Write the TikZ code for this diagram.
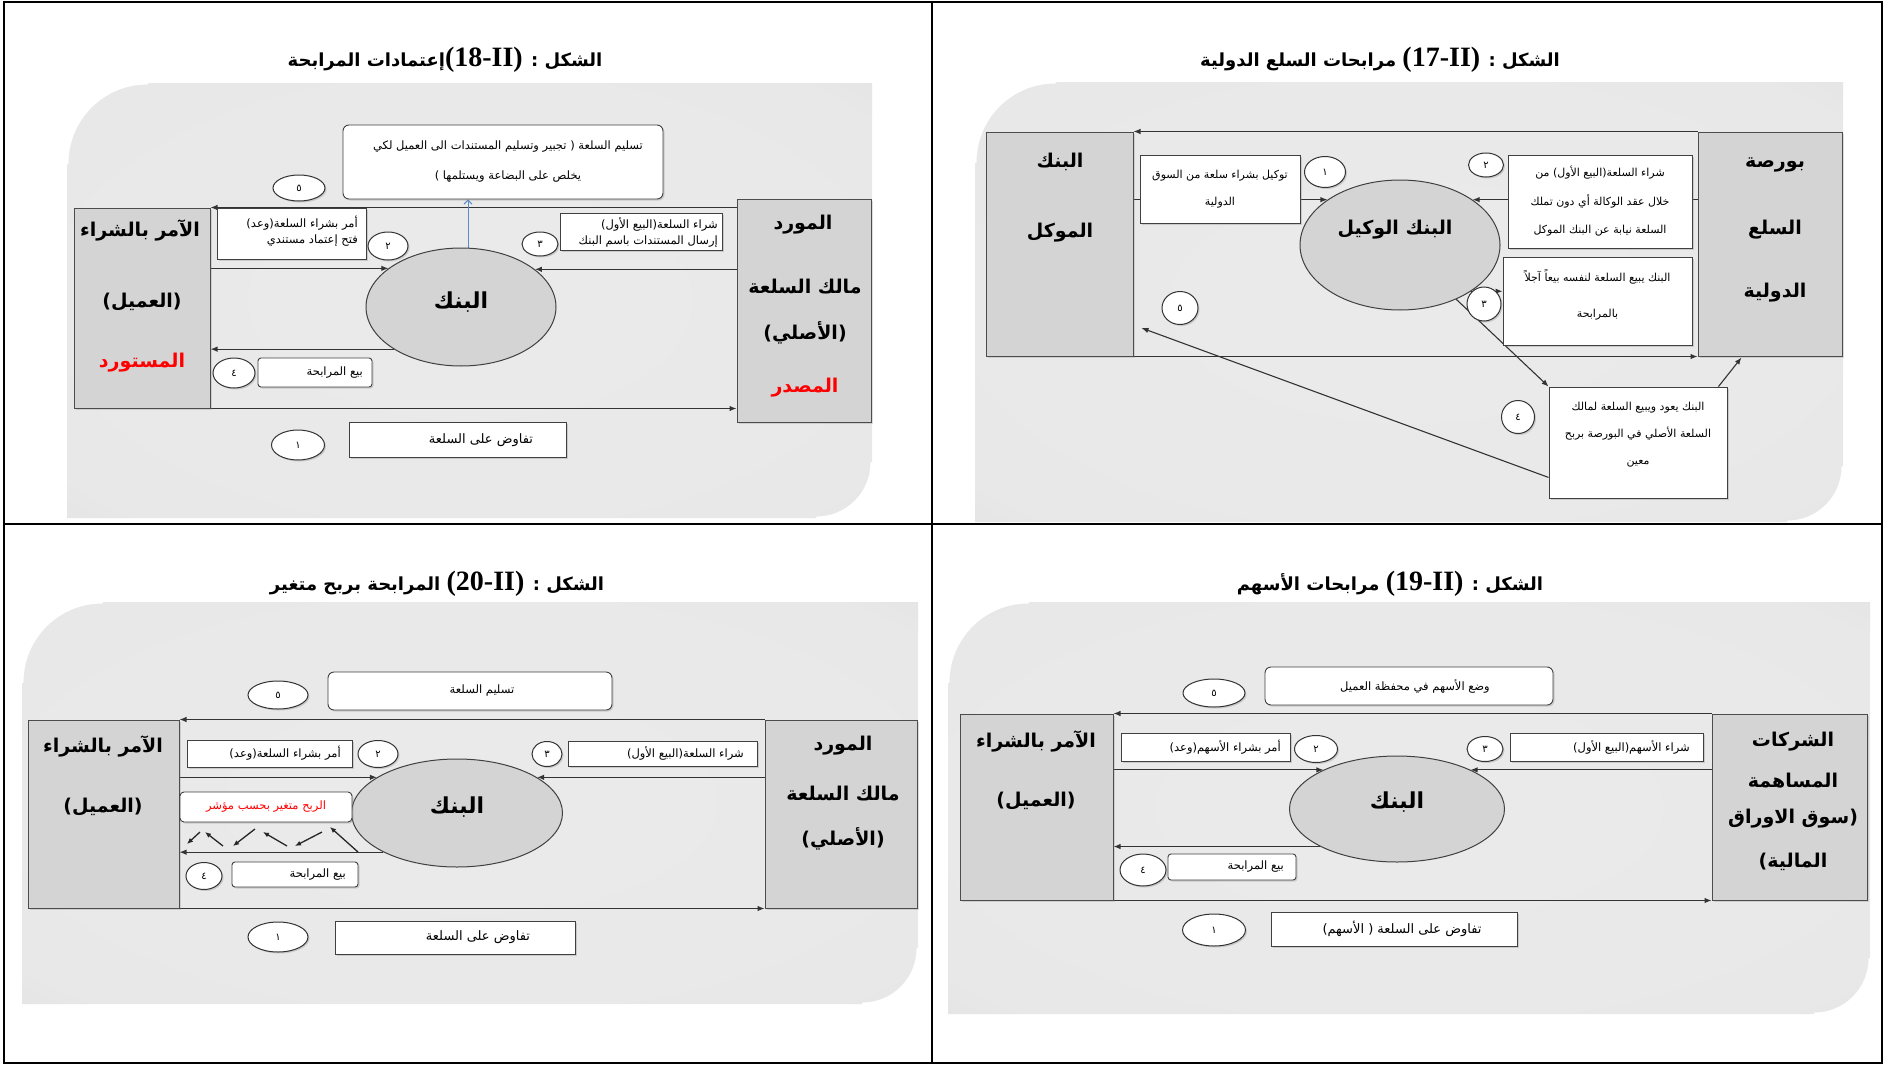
\documentclass[tikz,border=0pt]{standalone}
\usepackage{fontspec}
\setmainfont{Liberation Serif}
\newfontfamily\arf[Script=Arabic]{DejaVu Sans}
\newfontfamily\dvs{DejaVu Sans}
\TeXXeTstate=1
\usetikzlibrary{shapes.geometric,arrows.meta,calc,shadows}
\pgfdeclarelayer{bg}\pgfdeclarelayer{mid}\pgfsetlayers{bg,mid,main}
\definecolor{bluearr}{RGB}{91,138,200}
\pgfdeclareradialshading{panelsh}{\pgfpointorigin}{color(0bp)=(black!8); color(32bp)=(black!9); color(44bp)=(black!13); color(50bp)=(black!21); color(72bp)=(black!26)}
\newcommand\ARt[1]{{\arf\beginR #1\endR}}
\newcommand\Ropen{\hbox{\dvs)}}
\newcommand\Rclose{\hbox{\dvs(}}
\newcommand\latfig[1]{\hbox{\rmfamily\bfseries\fontsize{28}{28}\selectfont(#1)}}
\newcommand\mypanel[4]{%
 \shade[shading=panelsh] ({#1+80},#2) -- (#3,#2) -- (#3,{#4-55}) .. controls (#3,{#4-25}) and ({#3-25},#4) .. ({#3-55},#4) -- (#1,#4) -- (#1,{#2+80}) .. controls (#1,{#2+36}) and ({#1+36},#2) .. cycle;
 \draw[white,line width=3pt,line cap=round] (#1,{#2+80}) .. controls (#1,{#2+36}) and ({#1+36},#2) .. ({#1+80},#2);
 \draw[white,line width=3pt,line cap=round] (#3,{#4-55}) .. controls (#3,{#4-25}) and ({#3-25},#4) .. ({#3-55},#4);}
\tikzset{
 arw/.style={draw=black!80, line width=1.1pt, -{Latex[length=7pt,width=5.5pt]}},
 zig/.style={draw=black!85, line width=1.3pt, -{Latex[length=6pt,width=5pt]}},
 barw/.style={draw=bluearr, line width=1pt, -{Straight Barb[length=4pt,width=8pt]}},
 ent/.style 2 args={draw=black!70, fill=black!17, line width=1pt, minimum width=#1pt, minimum height=#2pt, inner sep=0pt, drop shadow={opacity=0.25, shadow xshift=2pt, shadow yshift=-2pt}},
 bank/.style 2 args={ellipse, draw=black!75, fill=black!17, line width=1pt, minimum width=#1pt, minimum height=#2pt, inner sep=0pt},
 bx/.style 2 args={draw=black!75, fill=white, line width=0.9pt, minimum width=#1pt, minimum height=#2pt, inner sep=0pt, drop shadow={opacity=0.3, shadow xshift=1.5pt, shadow yshift=-1.5pt}},
 rbx/.style 2 args={bx={#1}{#2}, rounded corners=6pt},
 ov/.style 2 args={ellipse, draw=black!80, fill=white, line width=1pt, minimum width=#1pt, minimum height=#2pt, inner sep=0pt, font=\arf\fontsize{10}{10}\selectfont, drop shadow={opacity=0.3, shadow xshift=1.5pt, shadow yshift=-1.5pt}},
 ttl/.style={inner sep=0pt, font=\arf\bfseries\fontsize{18}{18}\selectfont},
 et/.style={inner sep=0pt, font=\arf\bfseries\fontsize{19}{19}\selectfont},
 bt/.style={inner sep=0pt, font=\arf\bfseries\fontsize{22}{22}\selectfont},
 st/.style={inner sep=0pt, font=\arf\fontsize{11.5}{16}\selectfont},
 mt/.style={inner sep=0pt, font=\arf\fontsize{13}{16}\selectfont},
}
\begin{document}
\begin{tikzpicture}[x=1pt,y=-1pt]
\useasboundingbox (0,0) rectangle (1887,1065);
\begin{pgfonlayer}{bg}
 \fill[white] (0,0) rectangle (1887,1065);
 \mypanel{67}{83}{872}{518}
 \mypanel{975}{82}{1843}{522}
 \mypanel{22}{602}{918}{1004}
 \mypanel{948}{602}{1870}{1014}
\end{pgfonlayer}
% table frame
\draw[line width=2.4pt] (4,2) rectangle (1882,1063);
\draw[line width=2.4pt] (932,2) -- (932,1063);
\draw[line width=2.4pt] (4,524) -- (1882,524);

% ================= Panel 18-II =================
\node[ttl] (t18) at (445,60) {\ARt{الشكل : \latfig{18-II}إعتمادات المرابحة}};
\node[ent={136}{200}] (l18) at (142,308) {};
\node[et] (l18a) at (140,230) {\ARt{الآمر بالشراء}};
\node[et] (l18b) at (142,302) {\ARt{\Ropen العميل\Rclose}};
\node[et,text=red] (l18c) at (142,363) {\ARt{المستورد}};
\node[ent={134}{223}] (r18) at (804,310.5) {};
\node[et] (r18a) at (803,225) {\ARt{المورد}};
\node[et] (r18b) at (805,287) {\ARt{مالك السلعة}};
\node[et] (r18c) at (805,333) {\ARt{\Ropen الأصلي\Rclose}};
\node[et,text=red] (r18d) at (805,388) {\ARt{المصدر}};
\node[bank={190}{118}] (k18) at (461,307) {};
\node[bt] (k18t) at (461,302) {\ARt{البنك}};
\node[rbx={320}{74}] (c18) at (503,162) {};
\node[st,align=center,font=\arf\fontsize{11.5}{30}\selectfont] (c18t) at (508,162) {\ARt{تسليم السلعة \Ropen{} تجبير وتسليم المستندات الى العميل لكي}\\\ARt{يخلص على البضاعة ويستلمها \Rclose}};
\node[bx={149}{51}] (b18b) at (291.5,233.5) {};
\node[st,align=right,anchor=east] (b18bt) at (358,231) {\ARt{أمر بشراء السلعة\Ropen وعد\Rclose}\\\ARt{فتح إعتماد مستندي}};
\node[bx={162}{37}] (b18c) at (641,231.5) {};
\node[st,align=right,anchor=east] (b18ct) at (718,232) {\ARt{شراء السلعة\Ropen البيع الأول\Rclose}\\\ARt{إرسال المستندات باسم البنك}};
\node[bx={114}{29},rounded corners=3pt] (b18d) at (315,372.5) {};
\node[st,anchor=east] (b18dt) at (363,372.5) {\ARt{بيع المرابحة}};
\node[bx={217}{35}] (b18a) at (457.5,439.5) {};
\node[mt] (b18at) at (481,440) {\ARt{تفاوض على السلعة}};
\node[ov={52}{26}] (o18e) at (299,188) {\ARt{٥}};
\node[ov={40}{28}] (o18b) at (388,246) {\ARt{٢}};
\node[ov={36}{24}] (o18c) at (540,244) {\ARt{٣}};
\node[ov={42}{30}] (o18d) at (234,373) {\ARt{٤}};
\node[ov={53}{30}] (o18a) at (298,445) {\ARt{١}};

% ================= Panel 17-II =================
\node[ttl] (t17) at (1380,60) {\ARt{الشكل : \latfig{17-II} مرابحات السلع الدولية}};
\node[ent={147}{224}] (l17) at (1059.5,244) {};
\node[et] (l17a) at (1060,162) {\ARt{البنك}};
\node[et] (l17b) at (1060,233) {\ARt{الموكل}};
\node[ent={144}{224}] (r17) at (1770,244) {};
\node[et] (r17a) at (1775,165) {\ARt{بورصة}};
\node[et] (r17b) at (1775,230) {\ARt{السلع}};
\node[et] (r17c) at (1775,293) {\ARt{الدولية}};
\node[bank={200}{130}] (k17) at (1400,245) {};
\node[bt,font=\arf\bfseries\fontsize{19}{19}\selectfont] (k17t) at (1395,230) {\ARt{البنك الوكيل}};
\node[bx={160}{68},st,align=center,font=\arf\fontsize{11}{27}\selectfont] (b17a) at (1220,189) {\ARt{توكيل بشراء سلعة من السوق}\\\ARt{الدولية}};
\node[bx={184}{93},st,align=center,font=\arf\fontsize{11}{28.5}\selectfont] (b17b) at (1600,201.5) {\ARt{شراء السلعة\Ropen البيع الأول\Rclose{} من}\\\ARt{خلال عقد الوكالة أي دون تملك}\\\ARt{السلعة نيابة عن البنك الموكل}};
\node[bx={189}{88}] (b17c) at (1597.5,301) {};
\node[st,align=center,font=\arf\fontsize{11}{36}\selectfont] (b17ct) at (1597.5,295) {\ARt{البنك يبيع السلعة لنفسه بيعاً آجلاً}\\\ARt{بالمرابحة}};
\node[bx={178}{111}] (b17d) at (1638,442.5) {};
\node[st,align=center,font=\arf\fontsize{11}{27}\selectfont] (b17dt) at (1638,435) {\ARt{البنك يعود ويبيع السلعة لمالك}\\\ARt{السلعة الأصلي في البورصة بربح}\\\ARt{معين}};
\node[ov={41}{31}] (o17a) at (1325,172) {\ARt{١}};
\node[ov={35}{24}] (o17b) at (1486,165) {\ARt{٢}};
\node[ov={34}{34}] (o17c) at (1484,304) {\ARt{٣}};
\node[ov={33}{33}] (o17d) at (1518,417) {\ARt{٤}};
\node[ov={36}{33}] (o17e) at (1180,308) {\ARt{٥}};

% ================= Panel 20-II =================
\node[ttl] (t20) at (437,584) {\ARt{الشكل : \latfig{20-II} المرابحة بربح متغير}};
\node[ent={151}{188}] (l20) at (103.5,814) {};
\node[et] (l20a) at (103,746) {\ARt{الآمر بالشراء}};
\node[et] (l20b) at (103,807) {\ARt{\Ropen العميل\Rclose}};
\node[ent={152}{188}] (r20) at (841,814) {};
\node[et] (r20a) at (843,746) {\ARt{المورد}};
\node[et] (r20b) at (843,794) {\ARt{مالك السلعة}};
\node[et] (r20c) at (843,839) {\ARt{\Ropen الأصلي\Rclose}};
\node[bank={211}{108}] (k20) at (457,813) {};
\node[bt] (k20t) at (457,807) {\ARt{البنك}};
\node[rbx={284}{38}] (b20e) at (470,691) {};
\node[st] (b20et) at (482,691) {\ARt{تسليم السلعة}};
\node[bx={165}{27}] (b20b) at (269.5,753.5) {};
\node[st,anchor=east] (b20bt) at (341,753.5) {\ARt{أمر بشراء السلعة\Ropen وعد\Rclose}};
\node[bx={189}{25}] (b20c) at (662.5,753.5) {};
\node[st,anchor=east] (b20ct) at (744,753.5) {\ARt{شراء السلعة\Ropen البيع الأول\Rclose}};
\node[bx={172}{30},rounded corners=4pt] (b20r) at (266,807) {};
\node[st,text=red] (b20rt) at (266,807) {\ARt{الربح متغير بحسب مؤشر}};
\node[bx={126}{25},rounded corners=3pt] (b20d) at (295,874.5) {};
\node[st,anchor=east] (b20dt) at (346,874.5) {\ARt{بيع المرابحة}};
\node[bx={240}{33}] (b20a) at (455,937.5) {};
\node[mt] (b20at) at (478,937.5) {\ARt{تفاوض على السلعة}};
\node[ov={60}{28}] (o20e) at (278,695) {\ARt{٥}};
\node[ov={40}{27}] (o20b) at (378,754) {\ARt{٢}};
\node[ov={30}{25}] (o20c) at (547,754) {\ARt{٣}};
\node[ov={36}{27}] (o20d) at (204,876) {\ARt{٤}};
\node[ov={60}{30}] (o20a) at (278,937) {\ARt{١}};

% ================= Panel 19-II =================
\node[ttl] (t19) at (1390,584) {\ARt{الشكل : \latfig{19-II} مرابحات الأسهم}};
\node[ent={153}{186}] (l19) at (1036.5,807) {};
\node[et] (l19a) at (1036,741) {\ARt{الآمر بالشراء}};
\node[et] (l19b) at (1036,801) {\ARt{\Ropen العميل\Rclose}};
\node[ent={155}{186}] (r19) at (1789.5,807) {};
\node[et] (r19a) at (1793,742) {\ARt{الشركات}};
\node[et] (r19b) at (1793,781) {\ARt{المساهمة}};
\node[et] (r19c) at (1793,819) {\ARt{\Ropen سوق الاوراق}};
\node[et] (r19d) at (1793,862) {\ARt{المالية\Rclose}};
\node[bank={215}{106}] (k19) at (1397,809) {};
\node[bt] (k19t) at (1397,802) {\ARt{البنك}};
\node[rbx={288}{38}] (b19e) at (1409,686) {};
\node[st] (b19et) at (1415,686) {\ARt{وضع الأسهم في محفظة العميل}};
\node[bx={169}{28}] (b19b) at (1205.5,747) {};
\node[st,anchor=east] (b19bt) at (1281,747) {\ARt{أمر بشراء الأسهم\Ropen وعد\Rclose}};
\node[bx={193}{28}] (b19c) at (1606.5,747) {};
\node[st,anchor=east] (b19ct) at (1690,747) {\ARt{شراء الأسهم\Ropen البيع الأول\Rclose}};
\node[bx={128}{26},rounded corners=3pt] (b19d) at (1232,867) {};
\node[st,anchor=east] (b19dt) at (1284,867) {\ARt{بيع المرابحة}};
\node[bx={246}{34}] (b19a) at (1394,929) {};
\node[mt] (b19at) at (1402,929) {\ARt{تفاوض على السلعة \Ropen{} الأسهم\Rclose}};
\node[ov={62}{28}] (o19e) at (1214,693) {\ARt{٥}};
\node[ov={43}{27}] (o19b) at (1316,749) {\ARt{٢}};
\node[ov={36}{25}] (o19c) at (1485,749) {\ARt{٣}};
\node[ov={46}{32}] (o19d) at (1143,870) {\ARt{٤}};
\node[ov={63}{32}] (o19a) at (1214,930) {\ARt{١}};

% ================= connectors =================
\begin{pgfonlayer}{mid}
 % 18
 \draw[arw] (r18.west |- l18.north) -- (l18.north east);
 \draw[arw] (l18.east |- k18.152) -- (k18.152);
 \draw[arw] (r18.west |- k18.27) -- (k18.27);
 \draw[arw] (k18.212) -- (l18.east |- k18.212);
 \draw[arw] (l18.south east) -- (r18.west |- l18.south east);
 \draw[barw] ($(k18.north)+(7,3)$) -- ($(c18.south)+(-35,0)$);
 % 17
 \draw[arw] (r17.north west) -- (l17.north east);
 \draw[arw] (l17.south east) -- (r17.south west);
 \draw[arw] (l17.east |- k17.148) -- (k17.148);
 \draw[arw] (r17.west |- k17.32) -- (k17.32);
 \draw[arw] (k17.327) -- (b17c.west |- k17.327);
 \draw[arw] (k17.316) -- (b17d.north west);
 \draw[arw] ($(b17d.north east)+(-9,0)$) -- ($(r17.south west)+(44,1)$);
 \draw[arw] ($(b17d.south west)+(0,-21)$) -- ($(l17.east)+(8,84)$);
 % 20
 \draw[arw] (r20.north west) -- (l20.north east);
 \draw[arw] (l20.south east) -- (r20.south west);
 \draw[arw] (l20.east |- k20.156) -- (k20.156);
 \draw[arw] (r20.west |- k20.24) -- (k20.24);
 \draw[arw] (k20.208) -- (l20.east |- k20.208);
 \draw[zig] (200,832) -- (187,844);
 \draw[zig] (223,846) -- (205,832);
 \draw[zig] (255,829) -- (233,846);
 \draw[zig] (287,846) -- (263,832);
 \draw[zig] (322,832) -- (295,846);
 \draw[zig] (358,852) -- (330,827);
 % 19
 \draw[arw] (r19.north west) -- (l19.north east);
 \draw[arw] (l19.south east) -- (r19.south west);
 \draw[arw] (l19.east |- k19.152) -- (k19.152);
 \draw[arw] (r19.west |- k19.28) -- (k19.28);
 \draw[arw] (k19.206) -- (l19.east |- k19.206);
\end{pgfonlayer}
\end{tikzpicture}
\end{document}
